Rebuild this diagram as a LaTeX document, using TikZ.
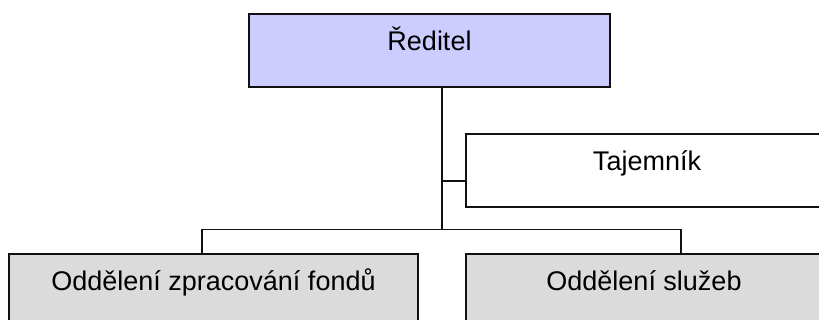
\documentclass[tikz,border=0pt]{standalone}
\usepackage{fontspec}
\setmainfont{Liberation Sans}
\definecolor{topfill}{HTML}{CCCCFF}
\definecolor{grayfill}{HTML}{DBDBDB}
\definecolor{edge}{HTML}{111111}
\begin{document}
\begin{tikzpicture}[x=1pt,y=-1pt,
  box/.style={draw=edge, line width=1.6pt, inner sep=0pt, anchor=north,
    text height=37pt, text depth=36pt, font=\fontsize{27}{31}\selectfont},
  conn/.style={draw=edge, line width=1.6pt}]
\useasboundingbox (0,0) rectangle (819,320);
\node[box, fill=topfill, minimum width=361pt] (r) at (429.5,13) {Ředitel};
\node[box, fill=white, minimum width=362pt] (t) at (647,133) {Tajemník};
\node[box, fill=grayfill, minimum width=409pt] (l) at (213.5,253) {Oddělení zpracování fondů};
\node[box, fill=grayfill, minimum width=356pt] (s) at (644,253) {Oddělení služeb};
\coordinate (j) at (442,229.7);
\coordinate (tj) at (442,181);
\coordinate (dl) at (202,229.7);
\coordinate (dr) at (681,229.7);
\draw[conn] (j |- r.south) -- (j);
\draw[conn] (tj) -- (tj -| t.west);
\draw[conn] (dl |- l.north) -- (dl) -- (dr) -- (dr |- s.north);
\end{tikzpicture}
\end{document}
